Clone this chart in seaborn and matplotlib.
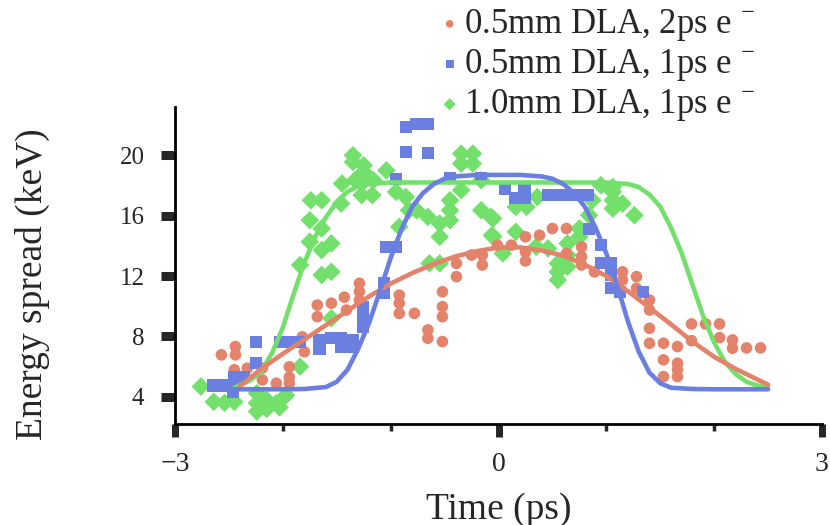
import numpy as np
import pandas as pd
import matplotlib
matplotlib.use("Agg")
import matplotlib.pyplot as plt
import seaborn as sns

# cores das séries
c_orange = "#E3836B"
c_blue = "#6A7FE0"
c_green = "#73E06C"

labels = ["0.5mm DLA, 2ps e $^{-}$", "0.5mm DLA, 1ps e $^{-}$", "1.0mm DLA, 1ps e $^{-}$"]

# pontos medidos - 0.5mm, 2ps (círculos)
orange_x = [-2.57, -2.44, -2.44, -2.45, -2.33, -2.19, -2.19, -2.06, -1.94, -1.94, -1.94,
            -1.82, -1.80, -1.68, -1.68, -1.55, -1.43, -1.41, -1.29, -1.29, -1.29,
            -0.92, -0.92, -0.92, -0.78, -0.655, -0.655, -0.52, -0.52, -0.52, -0.52,
            -0.39, -0.39, -0.25, -0.15, -0.15, -0.01, 0.12, 0.25, 0.25, 0.25, 0.38,
            0.50, 0.63, 0.63, 0.77, 0.77, 0.77, 0.89, 1.15, 1.15, 1.28, 1.28,
            1.40, 1.40, 1.40, 1.40, 1.53, 1.53, 1.53, 1.66, 1.66, 1.66, 1.66,
            1.79, 1.79, 1.92, 2.05, 2.05, 2.17, 2.17, 2.30, 2.43]
orange_y = [6.78, 7.33, 6.78, 5.79, 5.9, 5.12, 5.9, 4.9, 5.3, 4.9, 5.99,
            7.97, 6.98, 10.08, 9.31, 10.2, 10.6, 9.75, 11.52, 10.97, 10.4,
            10.74, 10.2, 9.53, 9.53, 8.43, 7.88, 10.96, 9.97, 9.31, 7.66,
            12.84, 11.96, 13.39, 13.39, 12.73, 14.05, 14.05, 14.6, 13.6, 13.0, 14.71,
            15.15, 15.15, 13.5, 13.94, 13.28, 12.73, 12.28, 12.28, 11.74, 11.96, 11.19,
            10.41, 9.75, 8.54, 7.55, 7.55, 6.45, 5.34, 7.33, 6.23, 5.8, 5.34,
            8.83, 7.72, 8.83, 8.83, 7.92, 7.77, 7.22, 7.24, 7.24]

# pontos medidos - 0.5mm, 1ps (quadrados)
blue_x = [-2.65, -2.56, -2.46, -2.46, -2.45, -2.36, -2.25, -2.25, -2.03, -1.94, -1.84,
          -1.66, -1.66, -1.55, -1.46, -1.46, -1.35, -1.35, -1.26, -1.26, -1.26,
          -1.06, -1.06, -1.04, -0.95, -0.95, -0.855, -0.763, -0.655, -0.855, -0.655,
          -0.454, -0.16, 0.056, 0.15, 0.241, 0.241, 0.457, 0.55, 0.643, 0.735, 0.828,
          0.84, 0.95, 0.95, 1.04, 1.04, 1.04, 1.13, 1.34]
blue_y = [4.75, 4.75, 4.75, 4.29, 5.34, 5.34, 7.62, 6.23, 7.62, 7.62, 7.62,
          7.77, 7.15, 7.92, 7.92, 7.33, 7.33, 7.77, 9.97, 9.31, 8.65,
          11.52, 10.86, 13.94, 13.94, 18.41, 21.87, 22.1, 22.1, 20.22, 20.15,
          18.5, 18.5, 17.8, 17.14, 17.14, 17.8, 17.36, 17.36, 17.36, 17.36, 17.36,
          15.15, 14.05, 12.84, 12.84, 12.07, 11.19, 10.96, 10.96]

# pontos medidos - 1.0mm, 1ps (losangos)
green_x = [-2.76, -2.64, -2.54, -2.45, -2.24, -2.24, -2.24, -2.15, -2.15, -2.06, -1.97, -2.03,
           -1.84, -1.84, -1.74, -1.64, -1.75, -1.75, -1.64, -1.55, -1.64, -1.64, -1.55,
           -1.55, -1.46, -1.45, -1.35, -1.35, -1.33, -1.25, -1.25, -1.24, -1.17, -1.27,
           -1.16, -1.04, -0.95, -0.92, -0.86, -0.83, -0.76, -0.655, -0.545, -0.545,
           -0.64, -0.545, -0.45, -0.45, -0.45, -0.346, -0.238, -0.346, -0.238, -0.346,
           -0.16, -0.16, -0.07, -0.06, -0.05, -0.05, 0.04, 0.16, 0.26, 0.16, 0.36,
           0.35, 0.46, 0.55, 0.55, 0.55, 0.64, 0.64, 0.64, 0.75, 0.75, 0.84, 0.87,
           0.95, 1.06, 1.06, 1.06, 1.06, 1.15, 1.26]
green_y = [4.68, 3.67, 3.6, 3.67, 4.24, 3.58, 3.03, 3.8, 3.2, 3.58, 4.1, 3.3,
           6.0, 12.73, 17.02, 17.02, 15.7, 14.27, 13.72, 14.16, 15.15, 12.07, 12.28,
           9.2, 16.8, 18.13, 20.0, 19.56, 18.35, 19.34, 18.9, 18.35, 17.36, 17.36,
           18.35, 19.0, 17.58, 15.26, 17.24, 16.36, 16.36, 15.92, 14.6, 15.48,
           12.84, 12.84, 17.02, 16.36, 15.7, 20.11, 20.11, 19.45, 19.45, 17.69,
           18.35, 16.36, 15.92, 14.71, 15.81, 14.6, 13.5, 16.58, 16.58, 14.93, 17.24,
           13.94, 13.83, 12.84, 12.28, 11.74, 12.62, 13.39, 14.16, 15.15, 14.6, 16.03, 17.02,
           18.02, 17.9, 17.58, 17.02, 16.47, 16.8, 16.03]

# curvas ajustadas
fit_o_x = [-2.4, -2.2, -2.0, -1.8, -1.6, -1.4, -1.2, -1.0, -0.8, -0.6, -0.4, -0.2, 0.0,
           0.2, 0.4, 0.6, 0.8, 1.0, 1.2, 1.4, 1.6, 1.8, 2.0, 2.2, 2.4, 2.5]
fit_o_y = [4.7, 5.85, 6.85, 7.8, 8.75, 9.7, 10.65, 11.5, 12.2, 12.8, 13.3, 13.65, 13.9,
           13.9, 13.7, 13.35, 12.75, 12.0, 11.0, 9.9, 8.8, 7.65, 6.65, 5.85, 5.15, 4.8]

fit_b_x = [-2.5, -2.0, -1.8, -1.6, -1.5, -1.4, -1.3, -1.2, -1.1, -1.0, -0.9, -0.8, -0.7,
           -0.6, -0.5, -0.4, -0.2, 0.0, 0.2, 0.4, 0.5, 0.6, 0.7, 0.8, 0.9, 1.0, 1.1,
           1.2, 1.3, 1.4, 1.5, 1.6, 1.8, 2.0, 2.5]
fit_b_y = [4.5, 4.5, 4.52, 4.65, 5.0, 5.8, 7.2, 8.9, 11.0, 13.2, 15.1, 16.6, 17.5,
           18.1, 18.45, 18.6, 18.7, 18.7, 18.7, 18.6, 18.45, 18.1, 17.5, 16.6, 15.2, 13.5, 11.4,
           9.0, 7.0, 5.6, 4.9, 4.6, 4.52, 4.5, 4.5]

fit_g_x = [-2.45, -2.3, -2.2, -2.1, -2.0, -1.9, -1.8, -1.7, -1.6, -1.5, -1.4, -1.3, -1.2,
           -1.0, 0.0, 1.0, 1.2, 1.3, 1.4, 1.5, 1.6, 1.7, 1.8, 1.9, 2.0, 2.1, 2.2, 2.3,
           2.4, 2.5]
fit_g_y = [4.6, 5.1, 5.7, 6.9, 8.6, 10.8, 12.9, 14.6, 15.9, 16.9, 17.6, 17.95, 18.1,
           18.2, 18.2, 18.2, 18.1, 17.9, 17.4, 16.6, 15.2, 13.5, 11.4, 9.3, 7.6, 6.3, 5.5, 5.0,
           4.75, 4.6]

x_major = [-3, 0, 3]
x_minor = [-2, -1, 1, 2]
y_ticks = [4, 8, 12, 16, 20]

sns.set_style("white")
plt.rcParams["font.family"] = ["Liberation Serif", "DejaVu Serif"]
plt.rcParams["mathtext.fontset"] = "custom"
plt.rcParams["mathtext.rm"] = "Liberation Serif"

fig = plt.figure(figsize=(8.3, 5.25), dpi=100)
ax = fig.add_axes([175 / 830, 1 - 424 / 525, 647 / 830, 317 / 525])

sns.scatterplot(x=green_x, y=green_y, marker="D", s=90, color=c_green, edgecolor="none",
                ax=ax, label=labels[2], zorder=2)
sns.scatterplot(x=orange_x, y=orange_y, marker="o", s=70, color=c_orange, edgecolor="none",
                ax=ax, label=labels[0], zorder=3)
sns.scatterplot(x=blue_x, y=blue_y, marker="s", s=75, color=c_blue, edgecolor="none",
                ax=ax, label=labels[1], zorder=4)

sns.lineplot(x=fit_g_x, y=fit_g_y, sort=False, estimator=None, color=c_green, lw=3.3, ax=ax, zorder=5)
sns.lineplot(x=fit_o_x, y=fit_o_y, sort=False, estimator=None, color=c_orange, lw=3.3, ax=ax, zorder=5)
sns.lineplot(x=fit_b_x, y=fit_b_y, sort=False, estimator=None, color=c_blue, lw=3.3, ax=ax, zorder=5)

ax.set_xlim(-3, 3)
ax.set_ylim(2.2, 23.2)
ax.set_xticks(x_major)
ax.set_xticklabels(["\u22123", "0", "3"])
ax.set_xticks(x_minor, minor=True)
ax.set_yticks(y_ticks)

for side in ["top", "right"]:
    ax.spines[side].set_visible(False)
for side in ["left", "bottom"]:
    ax.spines[side].set_linewidth(2)
    ax.spines[side].set_color("black")

ax.tick_params(axis="y", which="major", direction="out", length=10, width=6.5, pad=12,
               labelsize=18, left=True)
ax.tick_params(axis="x", which="major", direction="out", length=9.5, width=5, pad=11,
               labelsize=20, bottom=True)
ax.tick_params(axis="x", which="minor", direction="out", length=5, width=2.5, bottom=True)

ax.set_xlabel("Time (ps)", fontsize=27)
ax.set_ylabel("Energy spread (keV)", fontsize=27)
ax.xaxis.set_label_coords(0.5, (424 - 492) / 317)
ax.yaxis.set_label_coords((50 - 175) / 647, 0.44)

# legenda fora do eixo, no canto superior direito
handles, labs = ax.get_legend_handles_labels()
order = [labs.index(l) for l in labels]
ax.legend([handles[i] for i in order], labels, loc="upper left",
          bbox_to_anchor=(441 / 830, 1 - 7 / 525), bbox_transform=fig.transFigure,
          frameon=False, fontsize=25, markerscale=0.65, handlelength=0.5,
          handletextpad=0.15, labelspacing=0.12, borderpad=0, borderaxespad=0)

fig.savefig("out.png", dpi=100)
